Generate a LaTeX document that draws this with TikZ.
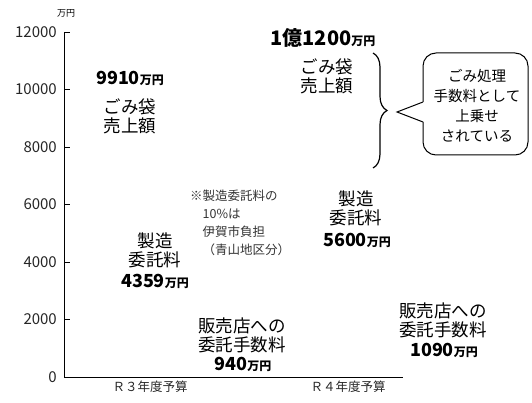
\documentclass[tikz,border=0pt]{standalone}
\usepackage{fontspec}
\setmainfont{Noto Sans CJK JP}
\usepackage{tikz}
\usetikzlibrary{positioning,calc,decorations.pathreplacing}

\newcommand{\manen}{{\fontsize{12}{12}\selectfont 万円}}

\begin{document}
\begin{tikzpicture}[x=1pt,y=-1pt,
  lbl/.style={align=center,inner sep=0pt,font=\fontsize{17.5}{19}\selectfont},
  amt/.style={inner sep=0pt,font=\fontsize{18}{20}\selectfont\bfseries},
  ticklbl/.style={anchor=east,inner sep=0pt,font=\fontsize{15}{15}\selectfont,text=black!85},
  yearlbl/.style={inner sep=0pt,font=\fontsize{12.5}{14}\selectfont,text=black!85},
  notetxt/.style={anchor=west,align=left,inner sep=0pt,font=\fontsize{12.5}{18}\selectfont,text=black!80},
  bubbletxt/.style={align=center,inner sep=0pt,font=\fontsize{14.5}{20}\selectfont}]
\useasboundingbox (0,0) rectangle (532,403);

% axes
\draw[line width=1pt] (64,32) -- (64,377) -- (403,377);
\foreach \v in {2000,4000,...,12000}
  \draw[line width=1pt] (64,{377-0.02875*\v}) -- ++(6,0);
\foreach \v in {0,2000,...,12000}
  \node[ticklbl] (tick\v) at (57,{377-0.02875*\v}) {\v};
\node[inner sep=0pt,font=\fontsize{9}{9}\selectfont] (unit) at (66,13) {万円};
\node[yearlbl] (r3) at (150,387) {Ｒ３年度予算};
\node[yearlbl] (r4) at (348,387) {Ｒ４年度予算};

% R3
\node[amt] (r3sales) at (130,78) {9910\manen};
\node[lbl] (r3salestxt) at (130,116.5) {ごみ袋\\売上額};
\node[lbl] (r3maketxt) at (155,250) {製造\\委託料};
\node[amt] (r3make) at (155,281) {4359\manen};
\node[lbl] (r3shoptxt) at (242,335) {販売店への\\委託手数料};
\node[amt] (r3shop) at (243,364) {940\manen};
\node[notetxt] (note) at (190,222.5)
  {※製造委託料の\\\hspace*{1em}10\%は\\\hspace*{1em}伊賀市負担\\\hspace*{1em}（青山地区分）};

% R4
\node[amt,font=\fontsize{20}{22}\selectfont\bfseries] (r4sales) at (323,38) {1億1200\manen};
\node[lbl] (r4salestxt) at (327,76) {ごみ袋\\売上額};
\node[lbl] (r4maketxt) at (356,208.5) {製造\\委託料};
\node[amt] (r4make) at (357,240) {5600\manen};
\node[lbl] (r4shoptxt) at (443,320) {販売店への\\委託手数料};
\node[amt] (r4shop) at (444,350) {1090\manen};

% brace and callout
\coordinate (bracetop) at (373,53);
\coordinate (bracebot) at (373,168);
\draw[line width=1.2pt,decorate,decoration={brace,amplitude=14pt}] (bracetop) -- (bracebot);
\coordinate (tip) at (397,112);
\node[bubbletxt] (bubble) at (477,105.5) {ごみ処理\\手数料として\\上乗せ\\されている};
\draw[line width=1pt,rounded corners=13pt] (423,102) -- (423,53) -- (528,53) -- (528,155) -- (423,155) -- (423,122);
\draw[line width=1pt] (423,122) -- (tip) -- (423,102);
\end{tikzpicture}
\end{document}
